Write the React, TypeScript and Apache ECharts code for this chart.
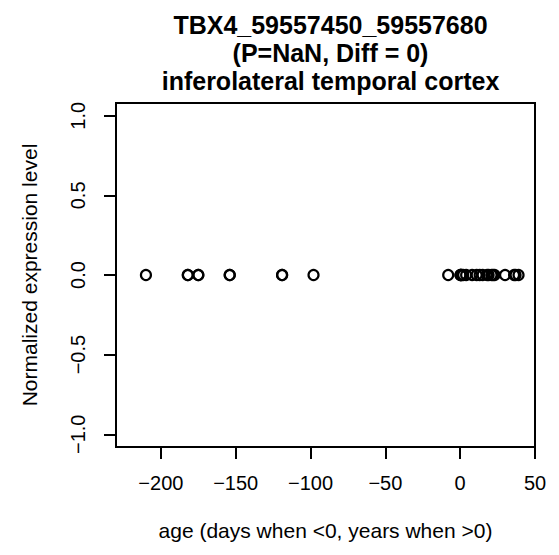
import React, { useEffect, useRef } from "react";
import * as echarts from "echarts";

const titleLines = ["TBX4_59557450_59557680", "(P=NaN, Diff = 0)", "inferolateral temporal cortex"];
const xAxisName = "age (days when <0, years when >0)";
const yAxisName = "Normalized expression level";
const xTicks = [-200, -150, -100, -50, 0, 50];
const yTicks = [-1.0, -0.5, 0.0, 0.5, 1.0];
const ages = [
  -210, -182, -182, -175, -175, -154, -154, -119, -119, -98,
  -8, 0.2, 0.3, 0.5, 1, 2, 4, 8, 11, 13, 15, 18, 19, 21, 22, 23, 30, 36, 37, 39,
];
const expression = ages.map(() => 0);

const FONT = '"Liberation Sans", Arial, Helvetica, sans-serif';
const fmt = (v: number, d: number) => {
  const s = Math.abs(v).toFixed(d);
  return v < 0 ? "\u2212" + s : s;
};

export default function App() {
  const ref = useRef<HTMLDivElement>(null);
  useEffect(() => {
    document.body.style.margin = "0";
    const chart = echarts.init(ref.current!, null, { renderer: "svg" });
    chart.setOption({
      animation: false,
      backgroundColor: "#ffffff",
      title: {
        text: titleLines.join("\n"),
        left: 325.5,
        top: 6,
        textAlign: "center",
        textStyle: { fontSize: 25, fontWeight: "bold", lineHeight: 28, fontFamily: FONT, color: "#000" },
      },
      grid: {
        left: 116,
        right: 24,
        top: 103,
        bottom: 108,
        show: true,
        borderColor: "#000",
        borderWidth: 2,
        backgroundColor: "transparent",
      },
      xAxis: {
        type: "value",
        min: -230,
        max: 50,
        position: "bottom",
        name: xAxisName,
        nameLocation: "middle",
        nameGap: 73,
        nameTextStyle: { fontSize: 21, fontFamily: FONT, color: "#000" },
        axisLine: { show: false, onZero: false },
        splitLine: { show: false },
        axisTick: { show: true, length: 12, lineStyle: { color: "#000", width: 2 }, customValues: xTicks },
        axisLabel: {
          margin: 26,
          fontSize: 20,
          fontFamily: FONT,
          color: "#000",
          customValues: xTicks,
          formatter: (v: number) => fmt(v, 0),
        },
      },
      yAxis: {
        type: "value",
        min: -1.08,
        max: 1.08,
        position: "left",
        name: yAxisName,
        nameLocation: "middle",
        nameGap: 76,
        nameTextStyle: { fontSize: 21, fontFamily: FONT, color: "#000" },
        axisLine: { show: false, onZero: false },
        splitLine: { show: false },
        axisTick: { show: true, length: 12, lineStyle: { color: "#000", width: 2 }, customValues: yTicks },
        axisLabel: {
          margin: 28,
          rotate: 90,
          fontSize: 20,
          fontFamily: FONT,
          color: "#000",
          customValues: yTicks,
          formatter: (v: number) => fmt(v, 1),
        },
      },
      series: [
        {
          type: "scatter",
          data: ages.map((a, i) => [a, expression[i]]),
          symbol: "circle",
          symbolSize: 10,
          itemStyle: { color: "transparent", borderColor: "#000", borderWidth: 2.2, opacity: 1 },
          emphasis: { disabled: true },
        },
      ],
    });
    return () => chart.dispose();
  }, []);
  return <div ref={ref} style={{ width: 559, height: 555 }} />;
}
